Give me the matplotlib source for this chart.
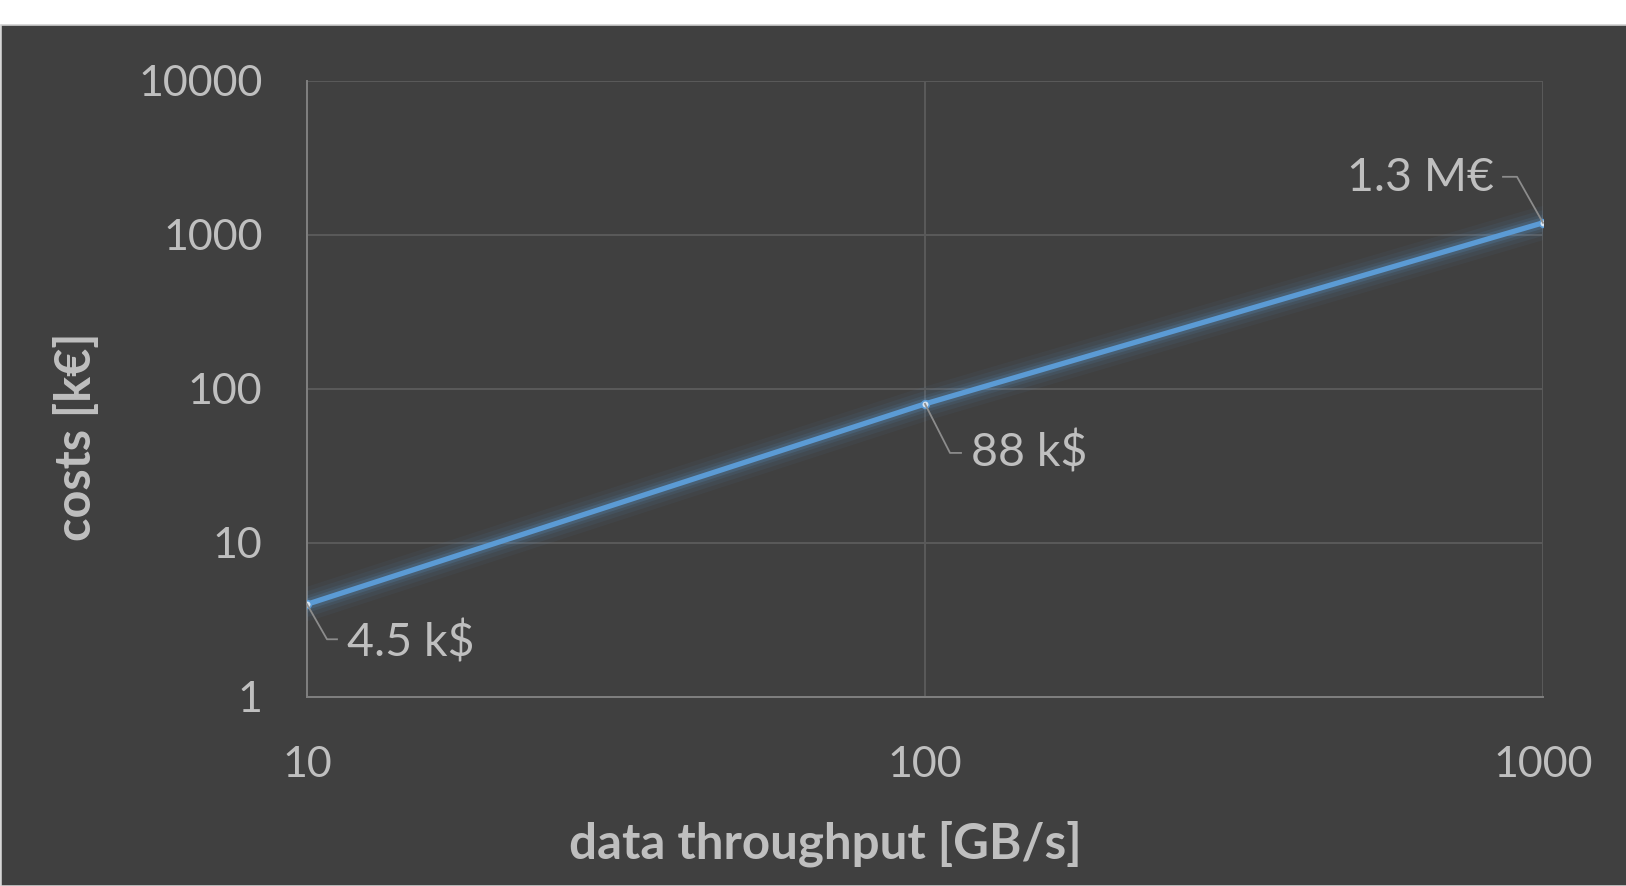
import numpy as np
import matplotlib
matplotlib.use("Agg")
import matplotlib.pyplot as plt
import matplotlib.transforms as mtransforms
from matplotlib.lines import Line2D
from matplotlib.patches import Rectangle

## data
throughput = [10, 100, 1000]          # GB/s
costs = [4.0, 80.0, 1200.0]           # k€
point_labels = ["4.5 k$", "88 k$", "1.3 M€"]
y_ticks = [1, 10, 100, 1000, 10000]
x_ticks = [10, 100, 1000]

bg = "#404040"
txt = "#bfbfbf"
blue = "#5b9bd5"

plt.rcParams['font.family'] = ['Lato', 'DejaVu Sans']

fig = plt.figure(figsize=(16.26, 8.86), dpi=100)
fig.patch.set_facecolor("white")
fig.add_artist(Rectangle((0.0006, 0), 1.0, 1 - 25/886, transform=fig.transFigure,
                         facecolor=bg, edgecolor="#d0d0d0", linewidth=1.2, zorder=-10))

ax = fig.add_axes([307/1626, 1 - 697/886, 1236/1626, 616/886])
ax.set_facecolor(bg)
ax.set_xscale("log")
ax.set_yscale("log")
ax.set_xlim(10, 1000)
ax.set_ylim(1, 10000)

ax.set_xticks(x_ticks)
ax.set_xticklabels([str(v) for v in x_ticks])
ax.set_yticks(y_ticks)
ax.set_yticklabels([str(v) for v in y_ticks])
ax.minorticks_off()
ax.tick_params(axis="both", length=0, colors=txt, labelsize=31)
ax.tick_params(axis="y", pad=32)
ax.tick_params(axis="x", pad=35)
ax.grid(True, color="#5a5a5a", linewidth=1.4)
ax.set_axisbelow(True)
for s in ["top", "right"]:
    ax.spines[s].set_visible(False)
for s in ["left", "bottom"]:
    ax.spines[s].set_color("#808080")
    ax.spines[s].set_linewidth(1.4)

ax.set_xlabel("data throughput [GB/s]", fontsize=35.5, fontweight="bold", color=txt)
ax.set_ylabel("costs [k€]", fontsize=35, fontweight="bold", color=txt)
ax.xaxis.set_label_coords(0.419, -0.201)
ax.yaxis.set_label_coords(-0.168, 0.422)

## glow + line
for lw, a in [(24, 0.05), (18, 0.07), (12, 0.10), (8, 0.18)]:
    ax.plot(throughput, costs, color=blue, linewidth=lw, alpha=a,
            solid_capstyle="round", zorder=3)
ax.plot(throughput, costs, color=blue, linewidth=3.8, zorder=4,
        marker="o", markersize=5.5, markerfacecolor="#d6e4f2",
        markeredgecolor=blue, markeredgewidth=1.2)

## data labels with leader lines (offsets in pixels, y down)
leaders = [[(0, 0), (20, 35), (30, 35)],
           [(0, 0), (25, 49), (36, 49)],
           [(0, 0), (-26, -46), (-40, -46)]]
text_off = [(40, 38, "left"), (46, 49, "left"), (-49, -45, "right")]

fig.canvas.draw()
for i in range(len(throughput)):
    px, py = ax.transData.transform((throughput[i], costs[i]))
    tr = mtransforms.Affine2D().translate(px, py)
    xs = [p[0] for p in leaders[i]]
    ys = [-p[1] for p in leaders[i]]
    fig.add_artist(Line2D(xs, ys, transform=tr, color="#8c8c8c", linewidth=1.3, zorder=5))
    dx, dy, ha = text_off[i]
    ax.annotate(point_labels[i], (throughput[i], costs[i]), xytext=(dx, -dy),
                textcoords="offset pixels", ha=ha, va="center",
                fontsize=33.5, color=txt, zorder=6)

fig.savefig("out.png", dpi=100, facecolor=fig.get_facecolor())
